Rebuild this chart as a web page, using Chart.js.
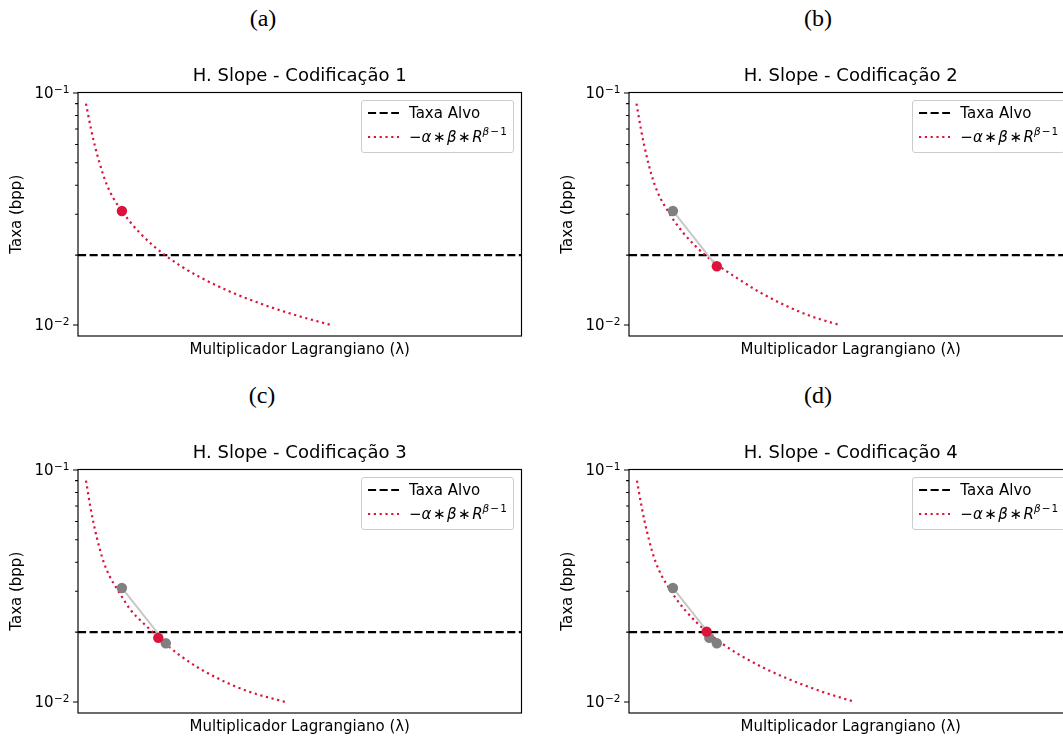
<!DOCTYPE html>
<html>
<head>
<meta charset="utf-8">
<script src="https://cdn.jsdelivr.net/npm/chart.js@4.4.1/dist/chart.umd.min.js"></script>
<style>
html,body{margin:0;padding:0;background:#fff;}
#wrap{position:relative;width:1063px;height:737px;overflow:hidden;background:#fff;}
#wrap canvas{position:absolute;}
.cap{position:absolute;width:100px;text-align:center;font-family:'Liberation Serif','Times New Roman',serif;font-size:24px;line-height:24px;color:#000;}
.leg{position:absolute;width:151px;height:51px;border:1px solid #cccccc;border-radius:3px;background:rgba(255,255,255,0.8);font-family:'DejaVu Sans',sans-serif;font-size:15px;color:#000;}
.leg svg{position:absolute;left:5px;}
.leg .t{position:absolute;left:47px;white-space:nowrap;line-height:18px;}
.leg sup{font-size:10.5px;vertical-align:0;position:relative;top:-7px;}
</style>
</head>
<body>
<div id="wrap"></div>
<script>
// ---------------- data ----------------
const CAPTIONS = ['(a)', '(b)', '(c)', '(d)'];
const TITLES = ['H. Slope - Codificação 1', 'H. Slope - Codificação 2', 'H. Slope - Codificação 3', 'H. Slope - Codificação 4'];
const Y_LABEL = 'Taxa (bpp)';
const X_LABEL = 'Multiplicador Lagrangiano (λ)';
const LEGEND_TARGET = 'Taxa Alvo';
const TARGET_RATE = 0.02;
const X_RANGE = [0, 1];
const Y_RANGE = [0.00896, 0.1005];
const Y_MAJOR_TICKS = [0.01, 0.1];
const Y_TICK_BASE = '10';
const Y_TICK_EXPONENTS = ['−2', '−1'];
const Y_MINOR_TICKS = [0.02, 0.03, 0.04, 0.05, 0.06, 0.07, 0.08, 0.09];

// rate samples of the dotted curve (same rates for every panel)
const CURVE_RATE = [0.09, 0.08, 0.07, 0.06, 0.05, 0.045, 0.04, 0.035, 0.031, 0.028, 0.025, 0.022, 0.02, 0.018, 0.016, 0.014, 0.013, 0.012, 0.011, 0.01];
// lambda positions of the curve, one list per panel
const CURVE_LAMBDA_1 = [0.018, 0.0232, 0.0293, 0.0373, 0.0484, 0.0558, 0.0655, 0.0805, 0.0992, 0.1163, 0.1387, 0.1692, 0.1961, 0.2307, 0.2767, 0.3398, 0.3808, 0.4306, 0.4921, 0.5696];
const CURVE_LAMBDA_2 = [0.017, 0.0215, 0.0268, 0.0338, 0.0434, 0.0499, 0.0583, 0.0714, 0.0876, 0.1025, 0.122, 0.1485, 0.172, 0.202, 0.242, 0.290, 0.321, 0.358, 0.405, 0.474];
const CURVE_LAMBDA_3 = [0.018, 0.0224, 0.0275, 0.0343, 0.0437, 0.0499, 0.0581, 0.0708, 0.0866, 0.1011, 0.118, 0.1458, 0.1685, 0.1945, 0.2275, 0.2722, 0.3028, 0.3398, 0.3902, 0.467];
const CURVE_LAMBDA_4 = [0.018, 0.0226, 0.0281, 0.0352, 0.0451, 0.0516, 0.0603, 0.0736, 0.0903, 0.1055, 0.1254, 0.1526, 0.1765, 0.2073, 0.2482, 0.3044, 0.3409, 0.3852, 0.4399, 0.5089];
const CURVES = [CURVE_LAMBDA_1, CURVE_LAMBDA_2, CURVE_LAMBDA_3, CURVE_LAMBDA_4];

// successive (lambda, rate) iterations
const ITER_LAMBDA = [0.099, 0.198, 0.181, 0.175];
const ITER_RATE = [0.031, 0.0179, 0.0189, 0.0201];

// ---------------- layout / style ----------------
const CRIMSON = '#DC143C';
const PANEL_POS = [[0, 40], [551.3, 40], [0, 417], [551.3, 417]];
const CAP_POS = [[263, 18], [818, 18], [262, 395], [818, 395]];
const CANVAS_W = 540, CANVAS_H = 319;
const FONT = "'DejaVu Sans', sans-serif";

Chart.defaults.font.family = FONT;
Chart.defaults.color = '#000';

const frameTicks = {
  id: 'frameTicks',
  afterDatasetsDraw(chart) {
    const {ctx, chartArea: a, scales: {y}} = chart;
    ctx.save();
    ctx.strokeStyle = '#000';
    ctx.lineWidth = 1.15;
    ctx.strokeRect(a.left, a.top, a.right - a.left, a.bottom - a.top);
    ctx.lineWidth = 1.1;
    ctx.beginPath();
    Y_MAJOR_TICKS.forEach(v => {
      const p = y.getPixelForValue(v);
      ctx.moveTo(a.left - 5, p); ctx.lineTo(a.left, p);
    });
    Y_MINOR_TICKS.forEach(v => {
      const p = y.getPixelForValue(v);
      ctx.moveTo(a.left - 2.9, p); ctx.lineTo(a.left, p);
    });
    ctx.stroke();
    // tick labels: 10 with superscript exponent
    ctx.fillStyle = '#000';
    ctx.textAlign = 'right';
    ctx.textBaseline = 'alphabetic';
    Y_MAJOR_TICKS.forEach((v, k) => {
      const p = y.getPixelForValue(v);
      const right = a.left - 8.5;
      ctx.font = '10.5px ' + FONT;
      const ew = ctx.measureText(Y_TICK_EXPONENTS[k]).width;
      ctx.fillText(Y_TICK_EXPONENTS[k], right, p);
      ctx.font = '15px ' + FONT;
      ctx.fillText(Y_TICK_BASE, right - ew - 0.5, p + 5.4);
    });
    ctx.restore();
  }
};

const wrap = document.getElementById('wrap');

function pts(n) {
  return ITER_LAMBDA.slice(0, n).map((x, k) => ({x, y: ITER_RATE[k]}));
}

for (let i = 0; i < 4; i++) {
  const [L, T] = PANEL_POS[i];
  const cv = document.createElement('canvas');
  cv.width = CANVAS_W; cv.height = CANVAS_H;
  cv.style.left = L + 'px'; cv.style.top = T + 'px';
  cv.style.width = CANVAS_W + 'px'; cv.style.height = CANVAS_H + 'px';
  wrap.appendChild(cv);

  const n = i + 1;
  const all = pts(n);
  const curve = CURVES[i].map((x, k) => ({x, y: CURVE_RATE[k]}));

  new Chart(cv, {
    type: 'scatter',
    data: {
      datasets: [
        {label: 'atual', data: [all[n - 1]], showLine: false, pointRadius: 5.2, pointHoverRadius: 5.2,
         backgroundColor: CRIMSON, borderWidth: 0, order: 0},
        {label: 'anteriores', data: all.slice(0, n - 1), showLine: false, pointRadius: 5.2, pointHoverRadius: 5.2,
         backgroundColor: '#808080', borderWidth: 0, order: 1},
        {label: 'trajetória', data: all, showLine: true, pointRadius: 0, borderColor: '#c8c8c8',
         borderWidth: 2, order: 2},
        {label: '−α∗β∗R^(β−1)', data: curve, showLine: true, pointRadius: 0, borderColor: CRIMSON,
         borderWidth: 2.2, borderDash: [2.2, 3.6], borderCapStyle: 'butt', cubicInterpolationMode: 'monotone', order: 3},
        {label: LEGEND_TARGET, data: [{x: X_RANGE[0], y: TARGET_RATE}, {x: X_RANGE[1], y: TARGET_RATE}], showLine: true,
         pointRadius: 0, borderColor: '#000', borderWidth: 2.2, borderDash: [8.1, 3.5], order: 4}
      ]
    },
    options: {
      responsive: false,
      animation: false,
      devicePixelRatio: 1,
      events: [],
      layout: {padding: {left: 0, top: 0, right: CANVAS_W - 521.5, bottom: 0}},
      plugins: {
        legend: {display: false},
        tooltip: {enabled: false},
        title: {display: true, fullSize: false, text: TITLES[i], color: '#000',
                font: {size: 18, weight: 'normal'}, padding: {top: 25.7, bottom: 5.2}}
      },
      scales: {
        x: {
          type: 'linear', min: X_RANGE[0], max: X_RANGE[1],
          ticks: {display: false},
          grid: {display: false, drawTicks: false},
          border: {display: false},
          title: {display: true, text: X_LABEL, color: '#000', font: {size: 15}, padding: {top: 0, bottom: 0}},
          afterFit: s => { s.height = 23; }
        },
        y: {
          type: 'logarithmic', position: 'left', min: Y_RANGE[0], max: Y_RANGE[1],
          afterBuildTicks: s => { s.ticks = Y_MAJOR_TICKS.map(v => ({value: v, major: true})); },
          ticks: {display: false},
          grid: {display: false, drawTicks: false},
          border: {display: false},
          title: {display: true, text: Y_LABEL, color: '#000', font: {size: 15}, padding: {top: 8, bottom: 0}},
          afterFit: s => { s.width = 78; }
        }
      }
    },
    plugins: [frameTicks]
  });

  // caption
  const cap = document.createElement('div');
  cap.className = 'cap';
  cap.textContent = CAPTIONS[i];
  cap.style.left = (CAP_POS[i][0] - 50) + 'px';
  cap.style.top = (CAP_POS[i][1] - 12) + 'px';
  wrap.appendChild(cap);

  // legend
  const leg = document.createElement('div');
  leg.className = 'leg';
  leg.style.left = (L + 361) + 'px';
  leg.style.top = (T + 60) + 'px';
  leg.innerHTML =
    '<svg width="32" height="6" style="top:9px"><line x1="1" y1="3" x2="32" y2="3" stroke="#000" stroke-width="2.2" stroke-dasharray="8.1 3.5"/></svg>' +
    '<div class="t" style="top:3px">' + LEGEND_TARGET + '</div>' +
    '<svg width="32" height="6" style="top:33px"><line x1="1" y1="3" x2="32" y2="3" stroke="' + CRIMSON + '" stroke-width="2.2" stroke-dasharray="2.2 3.6"/></svg>' +
    '<div class="t" style="top:27px">−<i>α</i>&#8202;∗&#8202;<i>β</i>&#8202;∗&#8202;<i>R</i><sup><i>β</i>&#8202;−&#8202;1</sup></div>';
  wrap.appendChild(leg);
}
</script>
</body>
</html>
